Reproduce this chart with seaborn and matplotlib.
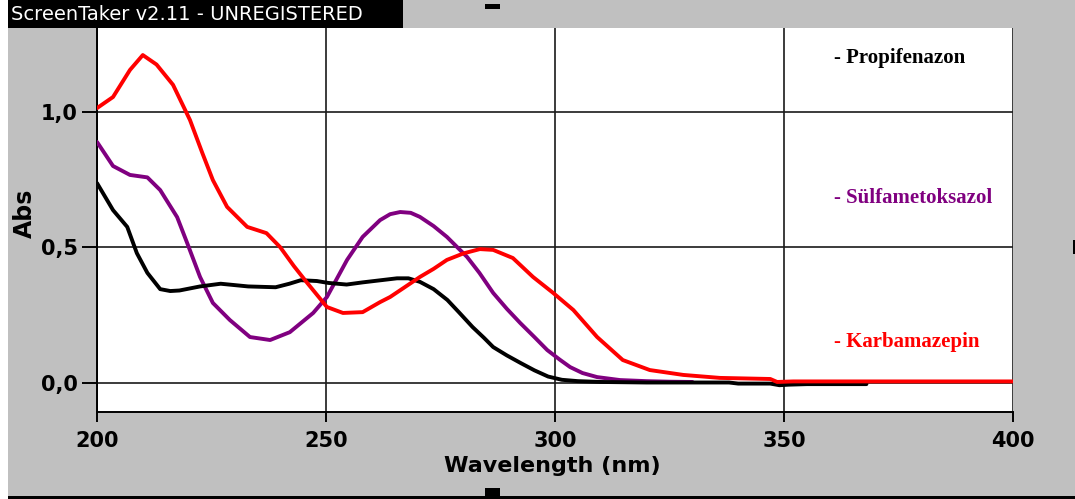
import matplotlib
matplotlib.use("Agg")
import matplotlib.pyplot as plt
from matplotlib.patches import Rectangle
from matplotlib.ticker import FuncFormatter
import seaborn as sns
import pandas as pd

# ---------------- data ----------------
wl_prop = [200, 203.5, 206.6, 208.7, 211, 213.8, 216, 218, 222.5, 227, 233, 239, 242, 244.5,
           248, 250.5, 254.5, 258, 262, 265.5, 268, 270.5, 273.5, 276.5, 279, 282, 284.5,
           286.5, 289.5, 292.5, 295.5, 298.5, 301.5, 305, 310, 320, 330, 338, 340, 345,
           347, 349, 351, 355, 360, 368]
abs_prop = [0.737, 0.637, 0.575, 0.478, 0.405, 0.345, 0.338, 0.340, 0.355, 0.365, 0.355, 0.352,
            0.365, 0.378, 0.375, 0.368, 0.362, 0.370, 0.378, 0.385, 0.385, 0.372, 0.345, 0.305,
            0.260, 0.205, 0.165, 0.131, 0.100, 0.072, 0.045, 0.022, 0.010, 0.005, 0.002, 0.0,
            0.0, 0.0, -0.004, -0.004, -0.004, -0.010, -0.008, -0.006, -0.006, -0.006]

wl_sulf = [200, 203.5, 207.2, 211, 213.8, 215.5, 217.5, 219.7, 222.5, 225.3, 229, 233.4, 237.8,
           242.1, 247.2, 250.2, 254.6, 258, 261.8, 264, 266.2, 268.5, 270.5, 273.5, 276.4,
           280.8, 283.5, 286.5, 289.5, 292.4, 295.5, 298.3, 301, 303.3, 306, 309.2, 314.2,
           320, 325, 330]
abs_sulf = [0.889, 0.800, 0.767, 0.758, 0.711, 0.665, 0.611, 0.515, 0.390, 0.294, 0.231, 0.168,
            0.157, 0.186, 0.257, 0.316, 0.453, 0.538, 0.600, 0.622, 0.630, 0.627, 0.612, 0.578,
            0.538, 0.464, 0.405, 0.331, 0.272, 0.220, 0.168, 0.120, 0.085, 0.057, 0.035, 0.020,
            0.009, 0.005, 0.003, 0.002]

wl_karb = [200, 203.5, 207.2, 210, 213, 216.6, 220.3, 223, 225.3, 228.4, 232.8, 237, 240, 243,
           245.9, 250.2, 253.7, 258, 261.8, 264, 267, 270.5, 273.5, 276.4, 280, 283.6, 286.5,
           290.8, 295.2, 299.6, 304, 309.2, 314.8, 320.7, 328, 336, 347, 348.5, 352, 360,
           380, 400]
abs_karb = [1.014, 1.055, 1.155, 1.210, 1.175, 1.100, 0.970, 0.848, 0.748, 0.649, 0.575, 0.552,
            0.500, 0.430, 0.368, 0.279, 0.257, 0.260, 0.297, 0.316, 0.350, 0.390, 0.420, 0.453,
            0.477, 0.493, 0.490, 0.460, 0.390, 0.331, 0.268, 0.168, 0.083, 0.046, 0.028, 0.017,
            0.013, 0.002, 0.004, 0.004, 0.004, 0.004]

names = ["Propifenazon", "Sülfametoksazol", "Karbamazepin"]
colors = {"Propifenazon": "#000000", "Sülfametoksazol": "#800080", "Karbamazepin": "#ff0000"}
x_ticks = [200, 250, 300, 350, 400]
y_ticks = [0.0, 0.5, 1.0]

df = pd.concat([
    pd.DataFrame({"wl": wl_prop, "abs": abs_prop, "compound": "Propifenazon"}),
    pd.DataFrame({"wl": wl_sulf, "abs": abs_sulf, "compound": "Sülfametoksazol"}),
    pd.DataFrame({"wl": wl_karb, "abs": abs_karb, "compound": "Karbamazepin"}),
], ignore_index=True)

# ---------------- figure ----------------
sns.set_style("white")
plt.rcParams["font.family"] = ["DejaVu Sans"]
plt.rcParams["text.color"] = "black"
plt.rcParams["axes.labelcolor"] = "black"
plt.rcParams["xtick.color"] = "black"
plt.rcParams["ytick.color"] = "black"

W, H = 1075, 499
fig = plt.figure(figsize=(W / 100, H / 100), dpi=100, facecolor="#c0c0c0")

def px_rect(x0, y0, x1, y1, color):
    fig.patches.append(Rectangle((x0 / W, 1 - y1 / H), (x1 - x0) / W, (y1 - y0) / H,
                                 transform=fig.transFigure, facecolor=color,
                                 edgecolor="none", zorder=0))

px_rect(0, 0, 8, H, "white")
px_rect(8, 496, W, H, "black")
px_rect(8, 0, 403, 28, "black")
px_rect(485, 4, 500, 9, "black")
px_rect(485, 488, 500, 499, "black")
px_rect(1073, 240, 1075, 254, "black")
fig.text(11 / W, 1 - 14 / H, "ScreenTaker v2.11 - UNREGISTERED", color="white",
         fontsize=14, ha="left", va="center")

ax = fig.add_axes([97 / W, 1 - 412 / H, (1013 - 97) / W, (412 - 28) / H])
ax.set_facecolor("white")

sns.lineplot(data=df, x="wl", y="abs", hue="compound",
             hue_order=["Sülfametoksazol", "Propifenazon", "Karbamazepin"],
             palette=colors, estimator=None, sort=True, linewidth=2.8,
             legend=False, ax=ax, zorder=3)

ax.set_xlim(200, 400)
ax.set_ylim(-0.109, 1.310)
ax.set_xticks(x_ticks)
ax.set_yticks(y_ticks)
ax.yaxis.set_major_formatter(FuncFormatter(lambda v, p: f"{v:.1f}".replace(".", ",")))
ax.grid(True, color="#1a1a1a", linewidth=1.2)
ax.set_axisbelow(True)
for s in ["top", "right"]:
    ax.spines[s].set_visible(False)
for s in ["left", "bottom"]:
    ax.spines[s].set_color("black")
    ax.spines[s].set_linewidth(1.4)

ax.tick_params(axis="y", direction="out", length=11, width=1.4, color="black",
               left=True, pad=3, labelsize=15, labelcolor="black")
ax.tick_params(axis="x", direction="out", length=7.5, width=1.4, color="black",
               bottom=True, pad=6, labelsize=15, labelcolor="black")
for lab in ax.get_xticklabels() + ax.get_yticklabels():
    lab.set_fontweight("bold")

ax.set_xlabel("Wavelength (nm)", fontsize=16, fontweight="bold", color="black")
ax.xaxis.set_label_coords(0.497, -0.115)
ax.set_ylabel("")
fig.text(25 / W, 1 - 213 / H, "Abs", rotation=90, fontsize=17, fontweight="bold",
         color="black", ha="center", va="center")

label_y = {"Propifenazon": 0.922, "Sülfametoksazol": 0.557, "Karbamazepin": 0.182}
for n in names:
    ax.text(0.8046, label_y[n], "- " + n, transform=ax.transAxes, color=colors[n],
            fontsize=15, fontweight="bold", family=["Liberation Serif", "DejaVu Serif"],
            ha="left", va="center")

fig.savefig("out.png", dpi=100, facecolor=fig.get_facecolor())
